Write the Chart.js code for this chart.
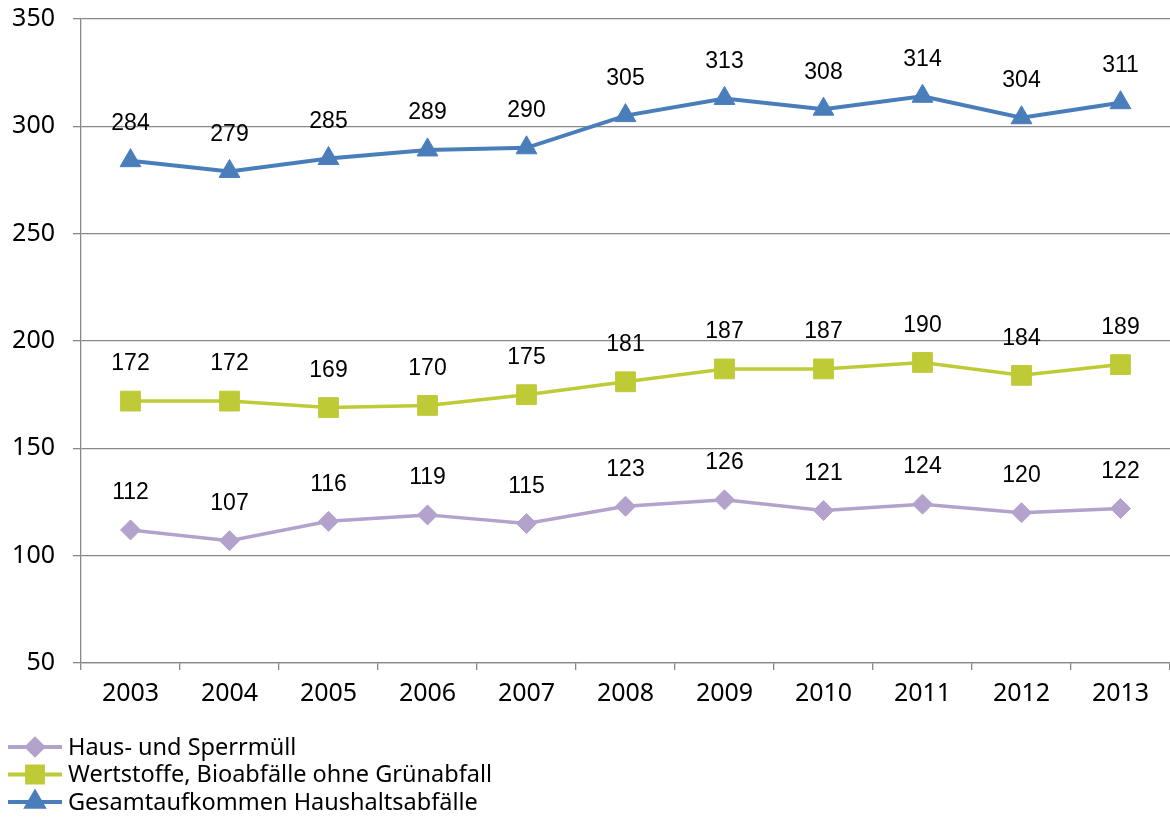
<!DOCTYPE html>
<html>
<head>
<meta charset="utf-8">
<script src="https://cdn.jsdelivr.net/npm/chart.js@4/dist/chart.umd.min.js"></script>
<style>
  html, body { margin: 0; padding: 0; background: #fff; }
  #wrap { width: 1170px; height: 821px; }
</style>
</head>
<body>
<div id="wrap"><canvas id="chart" width="1170" height="821"></canvas></div>
<script>
// Daten
const jahre = ['2003', '2004', '2005', '2006', '2007', '2008', '2009', '2010', '2011', '2012', '2013'];
const hausSperrmuell = [112, 107, 116, 119, 115, 123, 126, 121, 124, 120, 122];
const wertstoffe = [172, 172, 169, 170, 175, 181, 187, 187, 190, 184, 189];
const gesamt = [284, 279, 285, 289, 290, 305, 313, 308, 314, 304, 311];
const serienNamen = ['Haus- und Sperrmüll', 'Wertstoffe, Bioabfälle ohne Grünabfall', 'Gesamtaufkommen Haushaltsabfälle'];

const tickFont = { family: '"Noto Sans", "DejaVu Sans", sans-serif', size: 25 };

// Werte über den Punkten
const wertLabels = {
  id: 'wertLabels',
  afterDatasetsDraw(chart) {
    const ctx = chart.ctx;
    ctx.save();
    ctx.font = '23px "Liberation Sans", Arial, sans-serif';
    ctx.fillStyle = '#000';
    ctx.textAlign = 'center';
    ctx.textBaseline = 'middle';
    chart.data.datasets.forEach((ds, i) => {
      chart.getDatasetMeta(i).data.forEach((pt, j) => {
        ctx.fillText(ds.data[j], pt.x, pt.y - 37);
      });
    });
    ctx.restore();
  }
};

// Legende unten links, untereinander
const legendeUnten = {
  id: 'legendeUnten',
  afterDraw(chart) {
    const ctx = chart.ctx;
    ctx.save();
    ctx.font = '23.5px "Noto Sans", "DejaVu Sans", sans-serif';
    ctx.textBaseline = 'middle';
    chart.data.datasets.forEach((ds, i) => {
      const y = 747 + i * 27.5;
      ctx.strokeStyle = ds.borderColor;
      ctx.lineWidth = 4;
      ctx.beginPath();
      ctx.moveTo(8, y);
      ctx.lineTo(62, y);
      ctx.stroke();
      Chart.helpers.drawPoint(ctx, {
        pointStyle: ds.pointStyle,
        radius: ds.pointRadius * 0.8,
        borderWidth: 1
      }, 35, y);
      ctx.fillStyle = ds.backgroundColor;
      ctx.fill();
      ctx.fillStyle = '#000';
      ctx.fillText(ds.label, 68, y + 1);
    });
    ctx.restore();
  }
};

const ctx = document.getElementById('chart').getContext('2d');
const chart = new Chart(ctx, {
  type: 'line',
  data: {
    labels: jahre,
    datasets: [
      {
        label: serienNamen[0],
        data: hausSperrmuell,
        borderColor: '#B3A2CC',
        backgroundColor: '#B3A2CC',
        borderWidth: 3.5,
        pointStyle: 'rectRot',
        pointRadius: 10,
        pointBorderWidth: 1
      },
      {
        label: serienNamen[1],
        data: wertstoffe,
        borderColor: '#BECB37',
        backgroundColor: '#BECB37',
        borderWidth: 3.5,
        pointStyle: 'rect',
        pointRadius: 14,
        pointBorderWidth: 1
      },
      {
        label: serienNamen[2],
        data: gesamt,
        borderColor: '#4A7EBB',
        backgroundColor: '#4A7EBB',
        borderWidth: 4,
        pointStyle: 'triangle',
        pointRadius: 12,
        pointBorderWidth: 1
      }
    ]
  },
  options: {
    responsive: false,
    animation: false,
    maintainAspectRatio: false,
    layout: { autoPadding: false, padding: { top: 19, right: 0, bottom: 98, left: 0 } },
    plugins: {
      legend: { display: false },
      tooltip: { enabled: false }
    },
    scales: {
      x: {
        offset: true,
        grid: {
          display: true,
          drawOnChartArea: false,
          offset: true,
          color: '#888',
          lineWidth: 1.3,
          tickLength: 7
        },
        border: { color: '#888', width: 1.3 },
        ticks: { color: '#000', font: tickFont, padding: 9 },
        afterFit(scale) { scale.height = 60; }
      },
      y: {
        min: 50,
        max: 350,
        ticks: { stepSize: 50, color: '#000', font: tickFont, padding: 18 },
        grid: { color: '#888', lineWidth: 1.3, tickLength: 8 },
        border: { color: '#888', width: 1.3 },
        afterFit(scale) {
          scale.width = 81;
          scale.paddingTop = 0;
          scale.paddingBottom = 0;
        }
      }
    }
  },
  plugins: [wertLabels, legendeUnten]
});
</script>
</body>
</html>
